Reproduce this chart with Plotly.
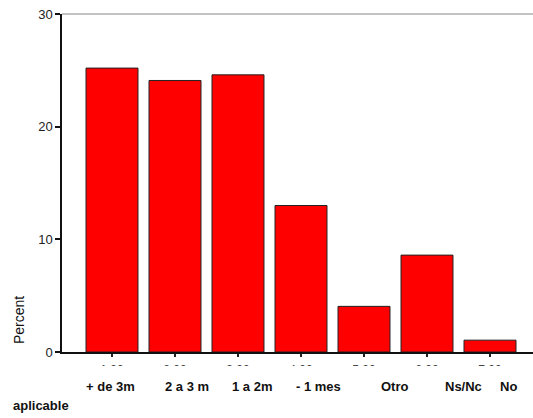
import plotly.graph_objects as go

# ---- data ----
codes = [1, 2, 3, 4, 5, 6, 7]
tick_labels = ["1.00", "2.00", "3.00", "4.00", "5.00", "6.00", "7.00"]
category_labels = ["+ de 3m", "2 a 3 m", "1 a 2m", "- 1 mes", "Otro", "Ns/Nc", "No aplicable"]
percent = [25.2, 24.1, 24.6, 13.0, 4.05, 8.6, 1.05]

# layout helpers (pixel positions of the category text under the axis)
W, H = 533, 418
ML, MR, MT, MB = 62, 0, 14, 66
PW, PH = W - ML - MR, H - MT - MB
label_px = [110, 187, 252, 318, 395, 463, 508]
row1_py, row2_py, wrap_px = 386, 405, 41

def px_x(px):
    return (px - ML) / PW

def px_y(py):
    return (H - MB - py) / PH

FONT = "Liberation Sans, Arial, sans-serif"

fig = go.Figure()
fig.add_trace(go.Bar(
    x=codes, y=percent, width=0.825,
    marker=dict(color="#FF0000", line=dict(color="#222222", width=1)),
    hoverinfo="x+y",
))

def lab_font():
    return dict(family=FONT, size=13, color="#111111", weight="bold")

annotations = []
for i, (lab, px) in enumerate(zip(category_labels, label_px)):
    if i == len(category_labels) - 1:
        first, second = lab.split(" ", 1)
        annotations.append(dict(text=first, x=px_x(px), y=px_y(row1_py), xref="paper", yref="paper",
                                showarrow=False, xanchor="center", yanchor="middle", font=lab_font()))
        annotations.append(dict(text=second, x=px_x(wrap_px), y=px_y(row2_py), xref="paper", yref="paper",
                                showarrow=False, xanchor="center", yanchor="middle", font=lab_font()))
    else:
        annotations.append(dict(text=lab, x=px_x(px), y=px_y(row1_py), xref="paper", yref="paper",
                                showarrow=False, xanchor="center", yanchor="middle", font=lab_font()))

annotations.append(dict(text="Percent", x=px_x(19), y=px_y(320), xref="paper", yref="paper",
                        showarrow=False, textangle=-90, xanchor="center", yanchor="middle",
                        font=dict(family=FONT, size=14, color="#111111")))

fig.update_layout(
    width=W, height=H,
    margin=dict(l=ML, r=MR, t=MT, b=MB, pad=0),
    paper_bgcolor="white", plot_bgcolor="white",
    showlegend=False,
    font=dict(family=FONT, color="#222222"),
    xaxis=dict(
        range=[1 - (112 - ML) / 63, 7 + (W - 490) / 63],
        tickvals=codes, ticktext=tick_labels,
        ticks="outside", ticklen=3, tickwidth=2, tickcolor="#222222",
        ticklabelstandoff=3,
        showline=True, linecolor="#111111", linewidth=1.5,
        showgrid=False, zeroline=False,
        tickfont=dict(size=12, color="#444444"),
    ),
    yaxis=dict(
        range=[0, 30], tickvals=[0, 10, 20, 30],
        ticks="outside", ticklen=5, tickwidth=2, tickcolor="#111111",
        showline=True, linecolor="#111111", linewidth=1.5,
        showgrid=False, zeroline=False,
        tickfont=dict(size=13, color="#222222"),
    ),
    annotations=annotations,
    shapes=[
        dict(type="line", xref="paper", yref="paper", x0=0, x1=1, y0=1, y1=1,
             line=dict(color="#888888", width=1), layer="above"),
        dict(type="rect", xref="paper", yref="paper", x0=-0.2, x1=1.05,
             y0=px_y(378), y1=px_y(366), fillcolor="white", line=dict(width=0), layer="above"),
    ],
)

fig.write_html(
    "out.html",
    config={"displayModeBar": False},
    post_script="document.body.style.margin='0px';document.body.style.overflow='hidden';",
)
